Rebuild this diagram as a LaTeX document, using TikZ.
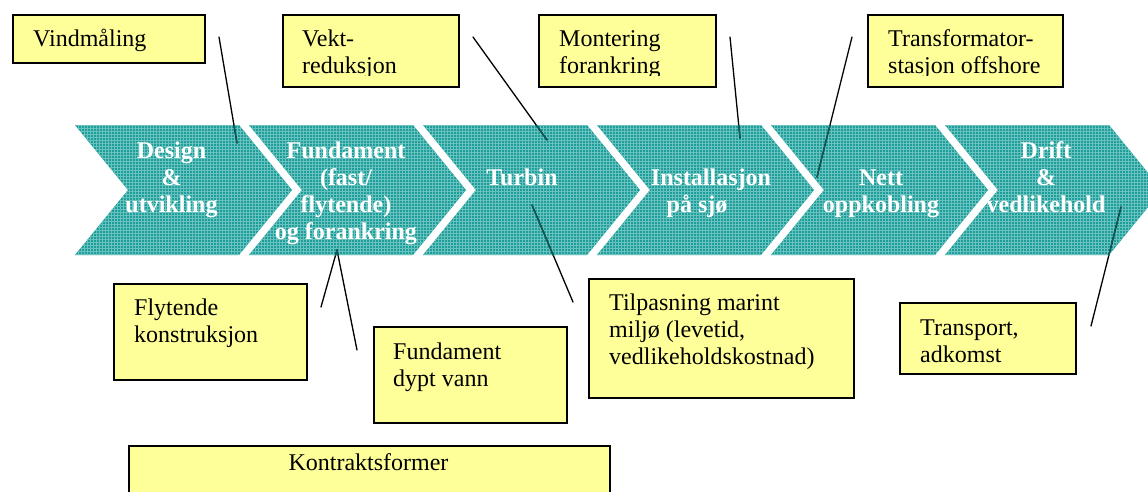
\documentclass[tikz,border=0pt]{standalone}
\usepackage{fontspec}
\setmainfont{Liberation Serif}
\usepackage{xcolor}
\usetikzlibrary{patterns}
\definecolor{chevteal}{RGB}{30,158,154}
\definecolor{chevgrid}{RGB}{105,194,190}
\definecolor{leaddark}{RGB}{16,92,90}
\definecolor{noteyellow}{RGB}{255,255,153}
\tikzset{
	chevron/.style={fill=chevteal,postaction={pattern=grid,pattern color=chevgrid}},
	steptext/.style={text=white,font=\bfseries\fontsize{24}{27}\selectfont,align=center,inner sep=0pt,anchor=north},
	notebox/.style={draw=black,line width=1.8pt,fill=noteyellow,inner sep=0pt,anchor=north west},
	notetext/.style={font=\fontsize{24}{27}\selectfont,align=left,inner sep=0pt,anchor=north west},
	lead/.style={line width=1.3pt,draw=black,line cap=round},
}
\newcommand{\topline}{\rule{0pt}{18pt}}

\begin{document}
\begin{tikzpicture}[x=1pt,y=-1pt]
		\useasboundingbox (0,0) rectangle (1148,491);
		\clip (0,0) rectangle (1148,491);
		% Process chevrons
		\foreach \i in {0,...,5}
			\fill[chevron] ({75+174*\i},125) -- ++(164,0) -- ++(53,65) -- ++(-53,65) -- ++(-164,0) -- ++(53,-65) -- cycle;
		\node[steptext] (design) at (171.5,140) {\topline Design\\\&\\utvikling};
		\node[steptext] (fundament) at (346,140) {\topline Fundament\\(fast/\\flytende)\\og forankring};
		\node[steptext] (turbin) at (522,167) {\topline Turbin};
		\node[steptext] (install) at (711,167) {\topline Installasjon\\på sjø\hspace*{28pt}};
		\node[steptext] (nett) at (881,167) {\topline Nett\\oppkobling};
		\node[steptext] (drift) at (1046,140) {\topline Drift\\\&\\vedlikehold};
		% Notes above
		\node[notebox,minimum width=192pt,minimum height=48pt] (vind) at (12,14) {};
		\node[notetext] (vindtxt) at (33,28) {\topline Vindmåling};
		\node[notebox,minimum width=176pt,minimum height=72pt] (vekt) at (282,14) {};
		\node[notebox,minimum width=177pt,minimum height=72pt] (mont) at (538,14) {};
		\node[notebox,minimum width=195pt,minimum height=72pt] (trafo) at (867,14) {};
		\begin{scope}
			\clip (0,0) rectangle (1148,75);
			\node[notetext] (vekttxt) at (302,28) {\topline Vekt-\\reduksjon};
			\node[notetext] (monttxt) at (559,28) {\topline Montering\\forankring};
			\node[notetext] (trafotxt) at (888,28) {\topline Transformator-\\stasjon offshore};
		\end{scope}
		% Notes below
		\node[notebox,minimum width=193pt,minimum height=96pt] (flyt) at (113,283) {};
		\node[notetext] (flyttxt) at (134,297) {\topline Flytende\\konstruksjon};
		\node[notebox,minimum width=193pt,minimum height=96pt] (dyp) at (373,326) {};
		\node[notetext] (dyptxt) at (393,341) {\topline Fundament\\dypt vann};
		\node[notebox,minimum width=265pt,minimum height=119pt] (tilp) at (588,278) {};
		\node[notetext] (tilptxt) at (609,292) {\topline Tilpasning marint\\miljø (levetid,\\vedlikeholdskostnad)};
		\node[notebox,minimum width=176pt,minimum height=71pt] (trans) at (899,302) {};
		\node[notetext] (transtxt) at (920,317) {\topline Transport,\\adkomst};
		\node[notebox,minimum width=481pt,minimum height=70pt] (kontr) at (128,445) {};
		\node[notetext,anchor=north] (kontrtxt) at (368.5,452) {\topline Kontraktsformer};
		% Leader lines
		\coordinate (vindA) at (219,37);   \coordinate (vindB) at (237,143);
		\coordinate (vektA) at (473,37);   \coordinate (vektB) at (547,140);
		\coordinate (montA) at (730,37);   \coordinate (montB) at (740,138);
		\coordinate (trafoA) at (852,37);  \coordinate (trafoB) at (817,177);
		\coordinate (flytA) at (321,307);  \coordinate (flytB) at (337,250);
		\coordinate (dypA) at (357,350);   \coordinate (dypB) at (337,250);
		\coordinate (tilpA) at (573,302);  \coordinate (tilpB) at (532,205);
		\coordinate (transA) at (1091,326); \coordinate (transB) at (1121,207);
		\foreach \a in {vind,vekt,mont,trafo,flyt,dyp,tilp,trans}
			\draw[lead] (\a A) -- (\a B);
		\begin{scope}
			\clip (0,125) rectangle (1148,255);
			\foreach \a in {vind,vekt,mont,trafo,flyt,dyp,tilp,trans}
				\draw[lead,draw=leaddark] (\a A) -- (\a B);
		\end{scope}
\end{tikzpicture}
\end{document}
